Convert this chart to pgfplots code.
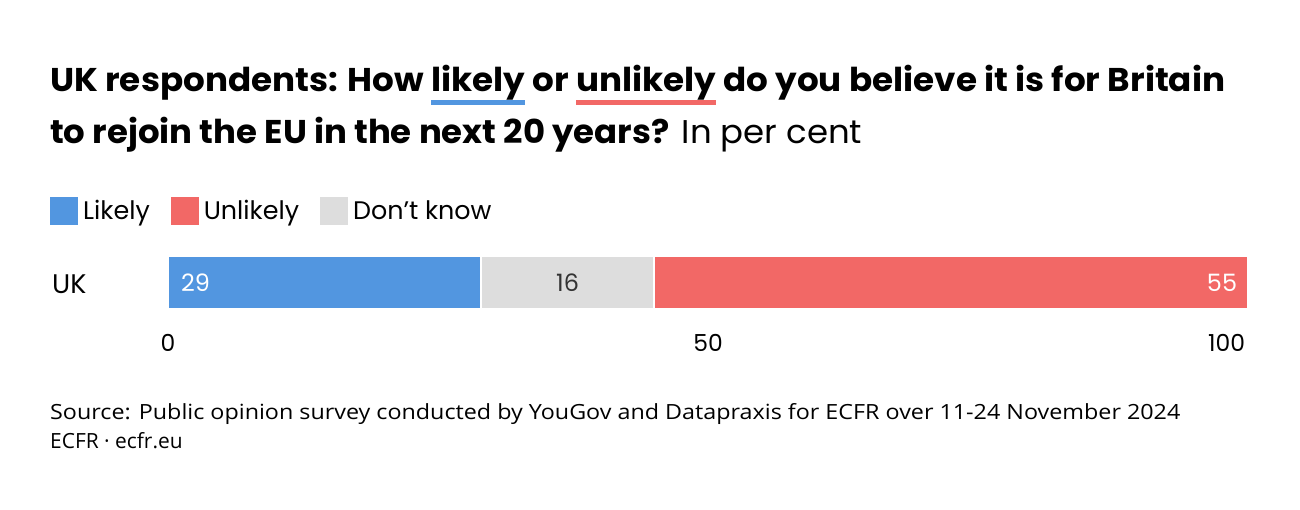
\documentclass[border=0pt]{standalone}
\usepackage{pgfplots}
\pgfplotsset{compat=1.18}
\usepackage{fontspec}
\setmainfont{Poppins}
\newfontfamily\srcfont{Open Sans}
\usepackage{graphicx}
\definecolor{likelyc}{HTML}{5296E0}
\definecolor{unlikelyc}{HTML}{F26866}
\definecolor{dkc}{HTML}{DDDDDD}
\definecolor{dktext}{HTML}{333333}
\newcommand\ulc[2]{\setbox0\hbox{#2}\rlap{\color{#1}\rule[-0.39em]{\wd0}{0.15em}}\box0\relax}
\begin{document}
\begin{tikzpicture}[x=1bp,y=1bp]
\path[use as bounding box] (0,0) rectangle (1300,510);
% title
\node[anchor=base west,inner sep=0pt] at (50,418) {\resizebox{1175bp}{\height}{\fontsize{33}{40}\selectfont\bfseries UK respondents: How \ulc{likelyc}{likely} or \ulc{unlikelyc}{unlikely} do you believe it is for Britain}};
\node[anchor=base west,inner sep=0pt] at (50,366) {\resizebox{812bp}{\height}{\fontsize{33}{40}\selectfont\textbf{to rejoin the EU in the next 20 years?} In per cent}};
\begin{axis}[
  at={(168bp,201bp)}, anchor=south west,
  scale only axis, width=1080bp, height=53bp,
  xbar stacked, bar width=53bp,
  xmin=0, xmax=100, ymin=0.5, ymax=1.5,
  axis line style={draw=none}, major tick style={draw=none},
  xtick={0,50,100},
  xticklabel={\ifnum\ticknum=2 \makebox[0pt][r]{\axisdefaultticklabel\hspace{3bp}}\else\axisdefaultticklabel\fi},
  xticklabel style={font=\fontsize{23.5}{28}\selectfont, inner sep=0pt, anchor=north, yshift=-25bp},
  /pgf/number format/assume math mode=true,
  ytick={1}, yticklabels={UK},
  yticklabel style={font=\fontsize{27}{30}\selectfont, inner sep=0pt, anchor=west, xshift=-116bp, yshift=-2bp},
  legend style={at={(-0.10926,1.849)}, anchor=west, draw=none, fill=none, inner sep=0pt,
    font=\fontsize{25.5}{30}\selectfont, legend columns=3,
    /tikz/every odd column/.append style={column sep=3bp},
    /tikz/every even column/.append style={column sep=19bp}},
  legend image code/.code={\fill[#1] (0bp,-14bp) rectangle (28bp,14bp);},
  legend cell align=left,
]
\addlegendimage{fill=likelyc,draw=none}
\addlegendentry{Likely}
\addlegendimage{fill=unlikelyc,draw=none}
\addlegendentry{Unlikely}
\addlegendimage{fill=dkc,draw=none}
\addlegendentry{Don{\char"27}t know}
\addplot[forget plot, fill=likelyc, draw=white, line width=2bp] coordinates {(29,1)};
\addplot[forget plot, fill=dkc, draw=white, line width=2bp] coordinates {(16,1)};
\addplot[forget plot, fill=unlikelyc, draw=white, line width=2bp] coordinates {(55,1)};
\coordinate (lab1) at (axis cs:1.2,1);
\coordinate (lab2) at (axis cs:37,1);
\coordinate (lab3) at (axis cs:99,1);
\end{axis}
\node[anchor=west, text=white, font=\fontsize{24}{28}\selectfont, inner sep=0pt] at (lab1) {29};
\node[anchor=center, text=dktext, font=\fontsize{24}{28}\selectfont, inner sep=0pt] at (lab2) {16};
\node[anchor=east, text=white, font=\fontsize{24}{28}\selectfont, inner sep=0pt] at (lab3) {55};
\node[anchor=base west,inner sep=0pt] at (50,90) {\resizebox{1130bp}{\height}{\srcfont\fontsize{21}{25}\selectfont Source: Public opinion survey conducted by YouGov and Datapraxis for ECFR over 11-24 November 2024}};
\node[anchor=base west,inner sep=0pt] at (50,61) {\srcfont\fontsize{21}{25}\selectfont ECFR · ecfr.eu};
\end{tikzpicture}
\end{document}
